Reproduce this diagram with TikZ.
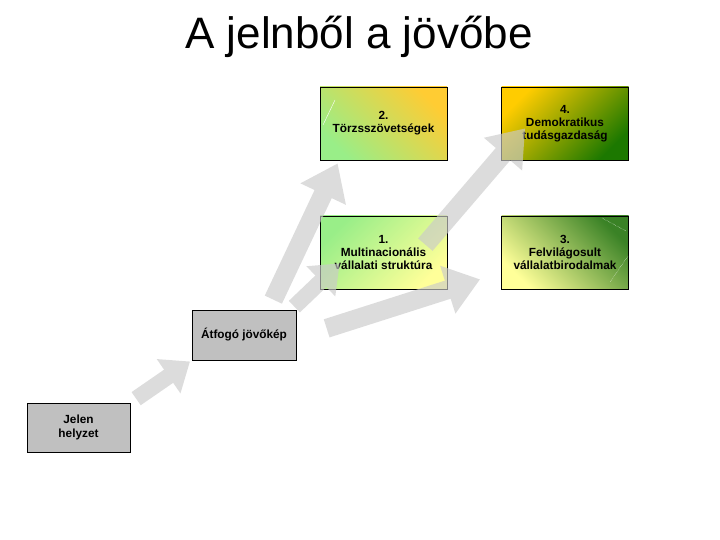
\documentclass[tikz,border=0pt]{standalone}
\usepackage{fontspec}
\setmainfont{Liberation Sans}
\usetikzlibrary{arrows.meta}

\definecolor{boxgray}{HTML}{C0C0C0}
\definecolor{lgreen}{HTML}{99EE88}
\definecolor{pyellow}{HTML}{FFFF99}
\definecolor{goldy}{HTML}{FFCC00}
\definecolor{orangey}{HTML}{FFCC33}
\definecolor{dgreen}{HTML}{1C7800}
\definecolor{oliveg}{HTML}{3A8226}
\definecolor{midolive}{HTML}{A8B840}
\definecolor{arrowgray}{HTML}{CACACA}

\begin{document}
\begin{tikzpicture}[x=1pt, y=-1pt,
  stage/.style={draw, line width=0.7pt, align=center, inner sep=0pt,
    font=\bfseries\fontsize{11.8}{13.2}\selectfont},
  startbox/.style={stage, fill=boxgray, minimum width=103pt, minimum height=49pt},
  futurebox/.style={stage, minimum width=127pt, minimum height=73pt},
  bigarrow/.style={line width=19pt, draw=arrowgray, -{Triangle[width=48pt, length=34pt]}},
  smallarrow/.style={line width=16pt, draw=arrowgray, -{Triangle[width=40pt, length=26pt]}}]

\useasboundingbox (0,0) rectangle (720,540);

% Title
\node[font=\fontsize{44}{50}\selectfont, anchor=base] (title) at (359,49) {A jelnből a jövőbe};

% Starting point
\node[startbox] (jelen) at (78.5,427.5) {Jelen\\helyzet};
\node[startbox, minimum width=104pt, minimum height=50pt] (atfogo) at (244,335) {Átfogó jövőkép};

% Four futures
\node[futurebox, top color=lgreen, bottom color=pyellow, shading angle=45] (multi) at (383.5,252.5) {1.\\Multinacionális\\vállalati struktúra};
\node[futurebox, top color=orangey, bottom color=lgreen, shading angle=-45] (torzs) at (383.5,123.5) {2.\\Törzsszövetségek};
\node[futurebox, top color=oliveg, middle color=midolive, bottom color=pyellow, shading angle=-45] (felvil) at (565,252.5) {3.\\Felvilágosult\\vállalatbirodalmak};
\node[futurebox, top color=goldy, bottom color=dgreen, shading angle=45] (demokr) at (565,123.5) {4.\\Demokratikus\\tudásgazdaság};

% Small highlights
\draw[white, thin] (335,100) -- (323,125);
\draw[white, densely dotted, thin] (602,218) -- (626,231);
\draw[white, densely dotted, thin] (628,256) -- (610,282);

% Arrow ends
\coordinate (b_tail) at ([shift={(-2,-3)}]atfogo.north east);
\coordinate (b_tip) at ([shift={(20,-26)}]multi.south west);
\coordinate (c_tail) at ([shift={(-23,-10)}]atfogo.north east);
\coordinate (c_tip) at ([shift={(18,3)}]torzs.south west);
\coordinate (d_tail) at ([shift={(7,39)}]multi.south west);
\coordinate (d_tip) at ([shift={(-21,-10)}]felvil.south west);
\coordinate (e_tail) at ([shift={(-22,29)}]multi.north east);
\coordinate (e_tip) at ([shift={(24,-32)}]demokr.south west);

% Arrows
\begin{scope}[transparency group, opacity=0.65]
\draw[smallarrow, shorten <=7pt, shorten >=2pt] (jelen.north east) -- (atfogo.south west);
\draw[smallarrow] (b_tail) -- (b_tip);
\draw[bigarrow] (c_tail) -- (c_tip);
\draw[bigarrow] (d_tail) -- (d_tip);
\draw[bigarrow] (e_tail) -- (e_tip);
\end{scope}

\end{tikzpicture}
\end{document}
